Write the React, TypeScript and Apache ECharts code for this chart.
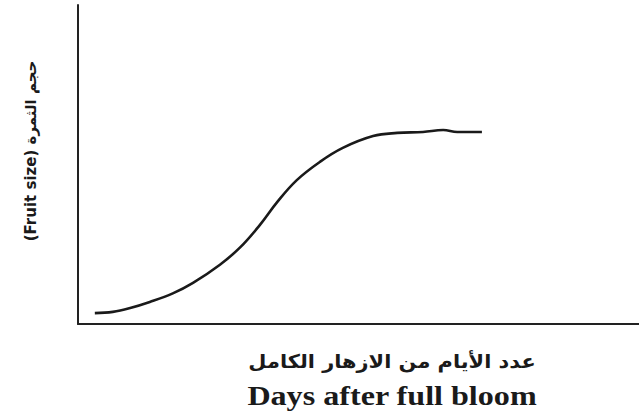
import React, { useEffect, useRef } from "react";
import * as echarts from "echarts";

const days = [3.0, 6.2, 9.3, 12.8, 16.9, 20.5, 25.3, 28.9, 32.4, 35.5, 39.0, 43.1, 47.2, 52.6, 56.9, 61.5, 65.1, 67.6, 72.0];
const fruitSize = [3.4, 3.8, 5.0, 6.9, 9.6, 12.9, 18.6, 24.0, 31.0, 38.2, 45.1, 50.8, 55.2, 58.9, 59.9, 60.2, 60.8, 60.2, 60.2];

const yLabel = "(Fruit size) حجم الثمرة";
const xLabelAr = "عدد الأيام من الازهار الكامل";
const xLabelEn = "Days after full bloom";

export default function App() {
  const ref = useRef<HTMLDivElement>(null);
  useEffect(() => {
    if (!ref.current) return;
    const chart = echarts.init(ref.current, null, { renderer: "svg" });
    const data = days.map((d, i) => [d, fruitSize[i]]);
    chart.setOption({
      animation: false,
      backgroundColor: "#ffffff",
      grid: { left: 78, right: 0, top: 5, bottom: 93 },
      xAxis: {
        type: "value",
        min: 0,
        max: 100,
        axisLine: { show: true, lineStyle: { color: "#222", width: 2 } },
        axisTick: { show: false },
        axisLabel: { show: false },
        splitLine: { show: false },
      },
      yAxis: {
        type: "value",
        min: 0,
        max: 100,
        axisLine: { show: true, lineStyle: { color: "#222", width: 2 } },
        axisTick: { show: false },
        axisLabel: { show: false },
        splitLine: { show: false },
      },
      series: [
        {
          type: "line",
          data,
          smooth: 0.4,
          showSymbol: false,
          lineStyle: { color: "#1a1a1a", width: 2.6 },
        },
      ],
      graphic: [
        {
          type: "text",
          x: 31,
          y: 151,
          rotation: Math.PI / 2,
          style: {
            text: yLabel,
            fill: "#1a1a1a",
            font: "bold 15px 'DejaVu Sans', sans-serif",
            align: "center",
            verticalAlign: "middle",
          },
        },
        {
          type: "text",
          x: 392,
          y: 361,
          scaleX: 1.1,
          style: {
            text: xLabelAr,
            fill: "#1a1a1a",
            font: "bold 19px 'DejaVu Sans', sans-serif",
            align: "center",
            verticalAlign: "middle",
          },
        },
        {
          type: "text",
          x: 392,
          y: 396,
          scaleX: 1.19,
          style: {
            text: xLabelEn,
            fill: "#1a1a1a",
            font: "bold 27px 'Liberation Serif', serif",
            align: "center",
            verticalAlign: "middle",
          },
        },
      ],
    });
    return () => chart.dispose();
  }, []);
  return <div ref={ref} style={{ width: 639, height: 417, position: "fixed", left: 0, top: 0 }} />;
}
